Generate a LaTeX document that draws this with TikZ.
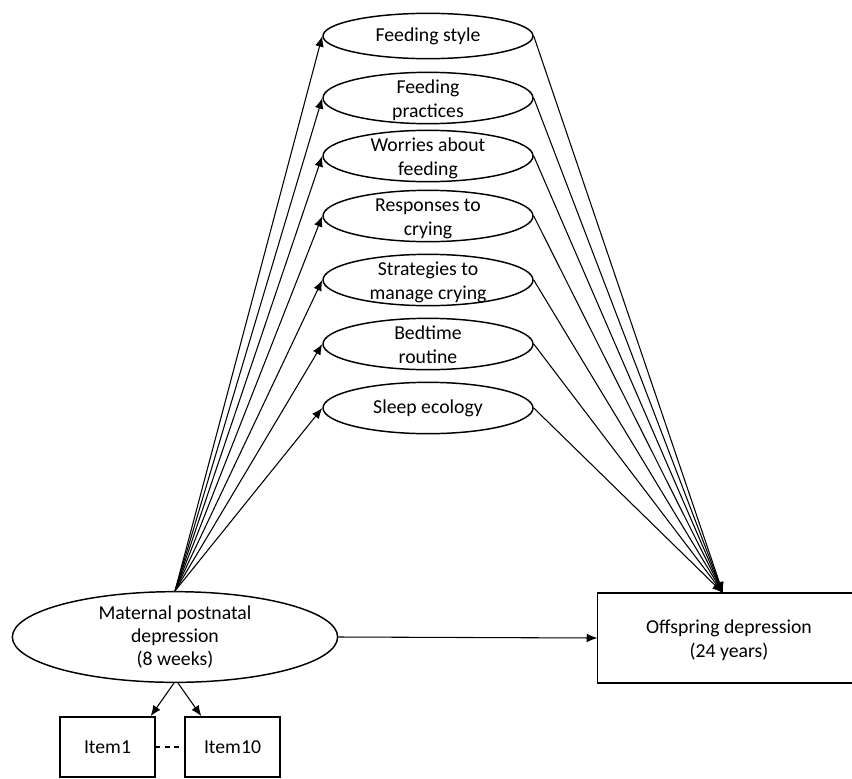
\documentclass[tikz,border=0pt]{standalone}
\usepackage{fontspec}
\setmainfont{Carlito}
\usetikzlibrary{arrows.meta,shapes.geometric,calc}
\newcommand{\twol}[2]{\raisebox{-5.7pt}[0pt][0pt]{\begin{tabular}{@{}c@{}}#1\\#2\end{tabular}}}
\begin{document}
\begin{tikzpicture}[x=0.75pt,y=-0.75pt,
  every node/.style={font=\fontsize{14.8}{17.5}\selectfont, align=center},
  med/.style={ellipse, draw, line width=1.1pt, inner sep=0pt, minimum width=157.5pt, minimum height=38.5pt},
  big/.style={ellipse, draw, line width=1.1pt, inner sep=0pt, minimum width=244pt, minimum height=68pt},
  obox/.style={rectangle, draw, line width=1.2pt, inner sep=0pt},
  arr/.style={line width=0.8pt, -{Latex[length=8pt,width=6.5pt]}},
  ln/.style={line width=0.8pt}
]
\useasboundingbox (0,0) rectangle (852,778);

\node[med, minimum height=34pt] (m1) at (428,36) {Feeding style};
\node[med] (m2) at (428,98) {\twol{Feeding}{practices}};
\node[med] (m3) at (428,156) {\twol{Worries about}{feeding}};
\node[med] (m4) at (428,216) {\twol{Responses to}{crying}};
\node[med] (m5) at (428,280) {\twol{Strategies to}{manage crying}};
\node[med] (m6) at (428,344) {\twol{Bedtime}{routine}};
\node[med] (m7) at (428,408) {Sleep ecology};

\node[big] (mat) at (175,637) {Maternal postnatal\\depression\\(8 weeks)};
\node[minimum width=230pt, minimum height=67.5pt, inner sep=0pt] (off) at (751,638) {};
\draw[line width=1.2pt] (off.north east) -- (off.north west) -- (off.south west) -- (off.south east);
\node[font=\fontsize{14.8}{18}\selectfont] (offt) at (729,640) {Offspring depression\\(24 years)};
\coordinate (conv) at (723,593);

\node[obox, minimum width=71pt, minimum height=45pt] (i1) at (107.5,747) {Item1};
\node[obox, minimum width=71pt, minimum height=45pt] (i10) at (232.5,747) {Item10};

\foreach \m in {m1,m2,m3,m4,m5,m6,m7}{
  \draw[arr] (mat.north) -- (\m.west);
  \draw[arr] (\m.east) -- (conv);
}
\draw[arr] (mat.east) -- (off.west);
\draw[arr] ($(mat.south)+(-1,0)$) -- ($(i1.north east)+(-5,0)$);
\draw[arr] ($(mat.south)+(3,0)$) -- ($(i10.north west)+(17,0)$);
\draw[ln, dash pattern=on 3.5pt off 3.5pt] (i1.east) -- (i10.west);
\end{tikzpicture}
\end{document}
